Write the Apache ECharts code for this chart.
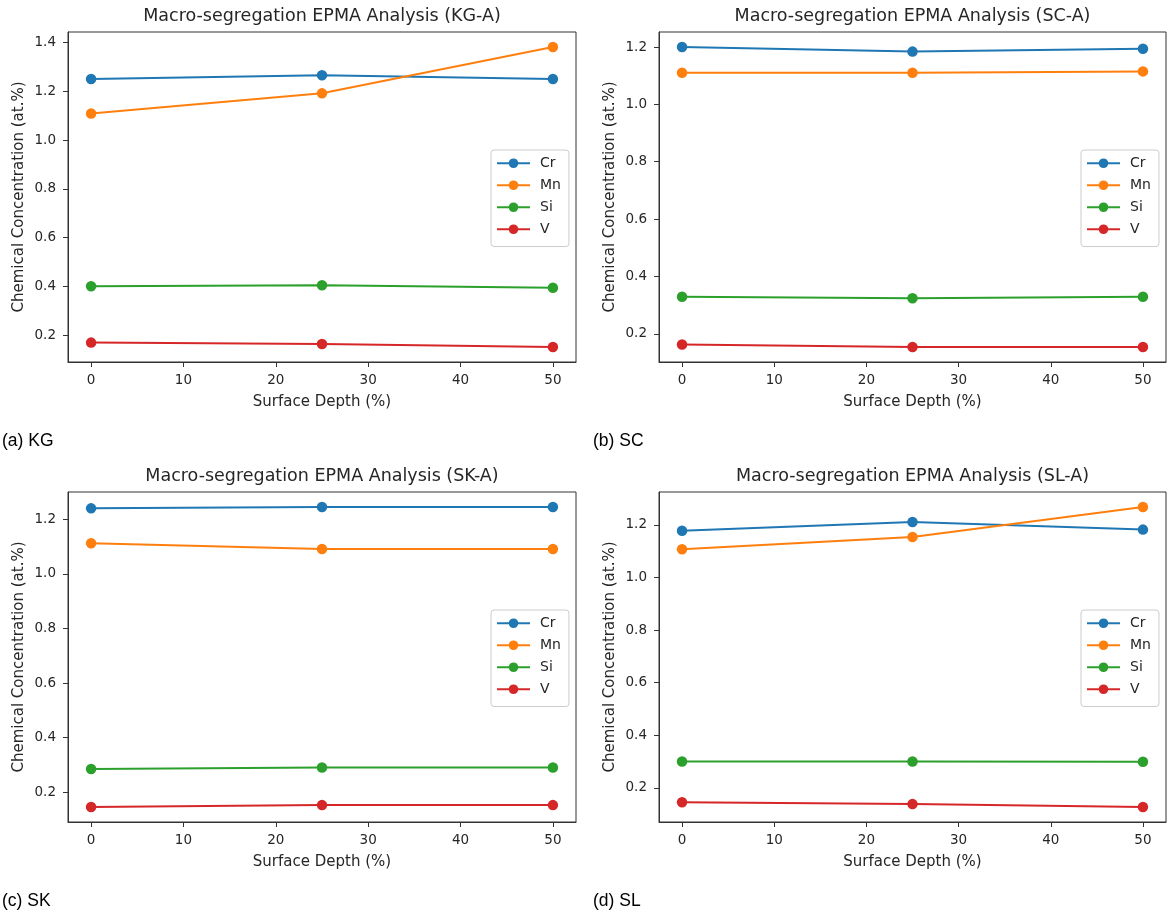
<!DOCTYPE html>
<html>
<head>
<meta charset="utf-8">
<title>Macro-segregation EPMA Analysis</title>
<script src="https://cdn.jsdelivr.net/npm/echarts@6/dist/echarts.min.js"></script>
<style>
  html, body { margin: 0; padding: 0; background: #ffffff; }
  #chart { width: 1168px; height: 921px; }
</style>
</head>
<body>
<div id="chart"></div>
<script>
// Surface depth positions (%) shared by every sample
const depths = [0, 25, 50];
const elements = ['Cr', 'Mn', 'Si', 'V'];
const elementColors = ['#1f77b4', '#ff7f0e', '#2ca02c', '#d62728'];

// Sample KG-A (at.%)
const kgCr = [1.251, 1.266, 1.251];
const kgMn = [1.109, 1.192, 1.382];
const kgSi = [0.401, 0.405, 0.395];
const kgV  = [0.170, 0.164, 0.152];

// Sample SC-A (at.%)
const scCr = [1.200, 1.184, 1.194];
const scMn = [1.110, 1.110, 1.115];
const scSi = [0.329, 0.324, 0.329];
const scV  = [0.163, 0.154, 0.154];

// Sample SK-A (at.%)
const skCr = [1.240, 1.245, 1.245];
const skMn = [1.112, 1.091, 1.091];
const skSi = [0.285, 0.291, 0.291];
const skV  = [0.146, 0.153, 0.153];

// Sample SL-A (at.%)
const slCr = [1.178, 1.211, 1.182];
const slMn = [1.107, 1.154, 1.268];
const slSi = [0.300, 0.300, 0.299];
const slV  = [0.145, 0.138, 0.127];

const xTicks = [0, 10, 20, 30, 40, 50];
const yTicksKG = [0.2, 0.4, 0.6, 0.8, 1.0, 1.2, 1.4];
const yTicksOther = [0.2, 0.4, 0.6, 0.8, 1.0, 1.2];

const panels = [
  { title: 'Macro-segregation EPMA Analysis (KG-A)', caption: '(a) KG',
    values: [kgCr, kgMn, kgSi, kgV], yTicks: yTicksKG },
  { title: 'Macro-segregation EPMA Analysis (SC-A)', caption: '(b) SC',
    values: [scCr, scMn, scSi, scV], yTicks: yTicksOther },
  { title: 'Macro-segregation EPMA Analysis (SK-A)', caption: '(c) SK',
    values: [skCr, skMn, skSi, skV], yTicks: yTicksOther },
  { title: 'Macro-segregation EPMA Analysis (SL-A)', caption: '(d) SL',
    values: [slCr, slMn, slSi, slV], yTicks: yTicksOther }
];

// Plot-area boxes (left, top, width, height) in a 2x2 arrangement
const boxes = [
  { left: 68,  top: 32,  width: 508, height: 330 },
  { left: 659, top: 32,  width: 507, height: 330 },
  { left: 68,  top: 492, width: 508, height: 330 },
  { left: 659, top: 492, width: 507, height: 330 }
];

const textColor = '#262626';
const spineColor = '#333333';
const mplFont = '"DejaVu Sans", sans-serif';

const grid = [], xAxis = [], yAxis = [], series = [], title = [], legend = [];

panels.forEach((p, i) => {
  const b = boxes[i];
  grid.push({
    left: b.left, top: b.top, width: b.width, height: b.height,
    show: true, borderColor: spineColor, borderWidth: 1, backgroundColor: 'transparent'
  });

  // 5% padding around the data range on both axes
  const all = [].concat(...p.values);
  const lo = Math.min(...all), hi = Math.max(...all);
  const pad = (hi - lo) * 0.05;

  xAxis.push({
    type: 'value', gridIndex: i, min: -2.5, max: 52.5,
    name: 'Surface Depth (%)', nameLocation: 'middle', nameGap: 33,
    nameTextStyle: { color: textColor, fontFamily: mplFont, fontSize: 15 },
    axisLine: { show: true, onZero: false, lineStyle: { color: spineColor, width: 1 } },
    splitLine: { show: false },
    axisTick: { show: true, inside: false, length: 5, customValues: xTicks,
                lineStyle: { color: spineColor, width: 1 } },
    axisLabel: { show: true, customValues: xTicks, margin: 11,
                 color: textColor, fontFamily: mplFont, fontSize: 13.5 }
  });

  yAxis.push({
    type: 'value', gridIndex: i, min: lo - pad, max: hi + pad,
    name: 'Chemical Concentration (at.%)', nameLocation: 'middle', nameGap: 41,
    nameRotate: 90,
    nameTextStyle: { color: textColor, fontFamily: mplFont, fontSize: 15 },
    axisLine: { show: true, onZero: false, lineStyle: { color: spineColor, width: 1 } },
    splitLine: { show: false },
    axisTick: { show: true, inside: false, length: 5, customValues: p.yTicks,
                lineStyle: { color: spineColor, width: 1 } },
    axisLabel: { show: true, customValues: p.yTicks, margin: 12,
                 formatter: v => v.toFixed(1),
                 color: textColor, fontFamily: mplFont, fontSize: 13.5 }
  });

  p.values.forEach((vals, k) => {
    series.push({
      type: 'line', name: elements[k], xAxisIndex: i, yAxisIndex: i,
      data: depths.map((d, j) => [d, vals[j]]),
      symbol: 'circle', symbolSize: 10.5, showSymbol: true,
      color: elementColors[k],
      lineStyle: { width: 2, color: elementColors[k] },
      itemStyle: { color: elementColors[k] },
      emphasis: { disabled: true },
      z: 2 + k
    });
  });

  title.push({
    text: p.title, left: b.left + b.width / 2, top: b.top - 25, textAlign: 'center',
    padding: 0,
    textStyle: { color: textColor, fontFamily: mplFont, fontSize: 17.5, fontWeight: 'normal' }
  });
  title.push({
    text: p.caption, left: i % 2 === 0 ? 2 : 593, top: b.top + 400,
    padding: 0,
    textStyle: { color: '#000000', fontFamily: '"Liberation Sans", Arial, sans-serif',
                 fontSize: 17.5, fontWeight: 'normal' }
  });

  legend.push({
    data: elements, orient: 'vertical',
    left: b.left + b.width - 85, top: b.top + 118,
    itemWidth: 33, itemHeight: 12, itemGap: 7.5,
    padding: [6, 8, 10, 5],
    backgroundColor: 'rgba(255,255,255,0.8)',
    borderColor: '#cccccc', borderWidth: 1, borderRadius: 3,
    selectedMode: false,
    lineStyle: { width: 2 },
    textStyle: { color: textColor, fontFamily: mplFont, fontSize: 14, lineHeight: 14.5,
                 padding: [0, 0, 0, 5] }
  });
});

const chart = echarts.init(document.getElementById('chart'), null, { renderer: 'canvas' });
chart.setOption({
  backgroundColor: '#ffffff',
  animation: false,
  title, legend, grid, xAxis, yAxis, series
});
</script>
</body>
</html>
